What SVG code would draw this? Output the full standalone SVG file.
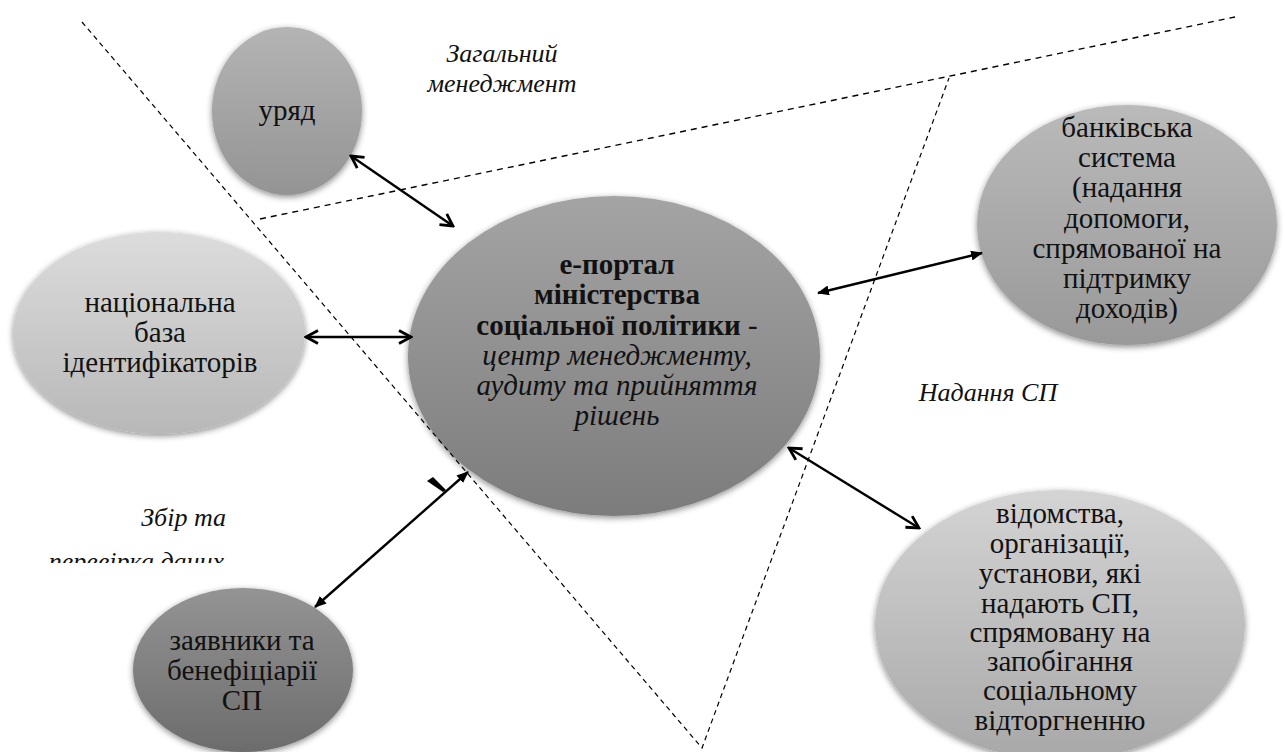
<svg xmlns="http://www.w3.org/2000/svg" width="1285" height="752" viewBox="0 0 1285 752">
  <style>
    .node text { font-family: "Liberation Serif", "Times New Roman", serif; font-size: 29px; fill: #111; text-anchor: middle; }
    .node .b { font-weight: bold; }
    .node .i { font-style: italic; }
    .zone { font-family: "Liberation Serif", "Times New Roman", serif; font-size: 26px; font-style: italic; fill: #111; }
    .dash { fill: none; stroke: #000; stroke-width: 1.2; stroke-dasharray: 5 4; }
    .dash2 { fill: none; stroke: #000; stroke-width: 1.4; stroke-dasharray: 6 5; }
    .link { fill: none; stroke: #000; stroke-width: 2.4; }
    .head { fill: none; stroke: #000; stroke-width: 2.8; stroke-linejoin: miter; }
  </style>
  <defs>
    <filter id="shadow" x="-10%" y="-10%" width="120%" height="125%">
      <feDropShadow dx="0" dy="2" stdDeviation="3" flood-color="#000" flood-opacity="0.45"/>
    </filter>
    <linearGradient id="gUryad" x1="0" y1="0" x2="0" y2="1">
      <stop offset="0" stop-color="#b4b4b4"/><stop offset="1" stop-color="#949494"/>
    </linearGradient>
    <linearGradient id="gPortal" x1="0" y1="0" x2="0" y2="1">
      <stop offset="0" stop-color="#a4a4a4"/><stop offset="1" stop-color="#7c7c7c"/>
    </linearGradient>
    <linearGradient id="gBase" x1="0" y1="0" x2="0" y2="1">
      <stop offset="0" stop-color="#dcdcdc"/><stop offset="1" stop-color="#b8b8b8"/>
    </linearGradient>
    <linearGradient id="gBank" x1="0" y1="0" x2="0" y2="1">
      <stop offset="0" stop-color="#bababa"/><stop offset="1" stop-color="#999999"/>
    </linearGradient>
    <linearGradient id="gAgency" x1="0" y1="0" x2="0" y2="1">
      <stop offset="0" stop-color="#d4d4d4"/><stop offset="1" stop-color="#a8a8a8"/>
    </linearGradient>
    <linearGradient id="gApplicants" x1="0" y1="0" x2="0" y2="1">
      <stop offset="0" stop-color="#949494"/><stop offset="1" stop-color="#6c6c6c"/>
    </linearGradient>
    <clipPath id="labelClip">
      <rect x="0" y="540" width="300" height="23"/>
    </clipPath>
    <marker id="open" viewBox="0 0 16 16" refX="14" refY="8" markerWidth="16" markerHeight="16" markerUnits="userSpaceOnUse" orient="auto-start-reverse">
      <path d="M2,1.5 L14,8 L2,14.5" class="head"/>
    </marker>
    <marker id="solid" viewBox="0 0 12 10" refX="11" refY="5" markerWidth="12" markerHeight="10" markerUnits="userSpaceOnUse" orient="auto-start-reverse">
      <path d="M0,0 L12,5 L0,10 Z" fill="#000"/>
    </marker>
  </defs>

  <rect width="1285" height="752" fill="#fff"/>

  <!-- nodes -->
  <g id="uryad" class="node">
    <ellipse cx="287" cy="111" rx="75" ry="84" fill="url(#gUryad)" filter="url(#shadow)"/>
    <text x="287" y="120">уряд</text>
  </g>

  <g id="portal" class="node">
    <ellipse cx="614" cy="356" rx="206" ry="160" fill="url(#gPortal)" filter="url(#shadow)"/>
    <text x="617" y="274" class="b">е-портал</text>
    <text x="617" y="304" class="b">міністерства</text>
    <text x="617" y="335"><tspan class="b">соціальної політики</tspan> -</text>
    <text x="617" y="365" class="i">центр менеджменту,</text>
    <text x="617" y="395" class="i">аудиту та прийняття</text>
    <text x="617" y="425" class="i">рішень</text>
  </g>

  <g id="base" class="node">
    <ellipse cx="159" cy="333" rx="146" ry="101" fill="url(#gBase)" filter="url(#shadow)"/>
    <text x="160" y="312">національна</text>
    <text x="160" y="342">база</text>
    <text x="160" y="372">ідентифікаторів</text>
  </g>

  <g id="bank" class="node">
    <ellipse cx="1127" cy="225" rx="150" ry="120" fill="url(#gBank)" filter="url(#shadow)"/>
    <text x="1127" y="137">банківська</text>
    <text x="1127" y="167">система</text>
    <text x="1127" y="197">(надання</text>
    <text x="1127" y="228">допомоги,</text>
    <text x="1127" y="258">спрямованої на</text>
    <text x="1127" y="288">підтримку</text>
    <text x="1127" y="318">доходів)</text>
  </g>

  <g id="agencies" class="node">
    <ellipse cx="1060" cy="625" rx="185" ry="135" fill="url(#gAgency)" filter="url(#shadow)"/>
    <text x="1060" y="523">відомства,</text>
    <text x="1060" y="553">організації,</text>
    <text x="1060" y="583">установи, які</text>
    <text x="1060" y="613">надають СП,</text>
    <text x="1060" y="642">спрямовану на</text>
    <text x="1060" y="671">запобігання</text>
    <text x="1060" y="700">соціальному</text>
    <text x="1060" y="730">відторгненню</text>
  </g>

  <g id="applicants" class="node">
    <ellipse cx="243" cy="670" rx="110" ry="82" fill="url(#gApplicants)" filter="url(#shadow)"/>
    <text x="242" y="650">заявники та</text>
    <text x="242" y="680">бенефіціарії</text>
    <text x="242" y="710">СП</text>
  </g>

  <!-- zone boundaries -->
  <g id="zones">
    <path class="dash" d="M82,22 L702,748 L949,78"/>
    <path class="dash2" d="M260,219 L1235,17"/>
  </g>

  <!-- zone labels -->
  <g id="zone-labels" class="zone">
    <text x="502" y="62" text-anchor="middle">Загальний</text>
    <text x="502" y="92" text-anchor="middle">менеджмент</text>
    <text x="988" y="401" text-anchor="middle">Надання СП</text>
    <text x="226" y="526" text-anchor="end">Збір та</text>
    <text x="224" y="570" text-anchor="end" clip-path="url(#labelClip)">перевірка даних</text>
  </g>

  <!-- connectors -->
  <g id="connectors">
    <line class="link" x1="351" y1="156" x2="453" y2="226" marker-start="url(#open)" marker-end="url(#open)"/>
    <line class="link" x1="306" y1="337" x2="411" y2="337" marker-start="url(#open)" marker-end="url(#open)"/>
    <line class="link" x1="818" y1="293" x2="982" y2="253" marker-start="url(#solid)" marker-end="url(#solid)"/>
    <line class="link" x1="789" y1="448" x2="919" y2="528" marker-start="url(#open)" marker-end="url(#open)"/>
    <line class="link" x1="315" y1="607" x2="468" y2="472" stroke-width="2" marker-start="url(#solid)" marker-end="url(#solid)"/>
    <path d="M427,481 L433,477 L446,490 L443,492 Z" fill="#000"/>
  </g>
</svg>
